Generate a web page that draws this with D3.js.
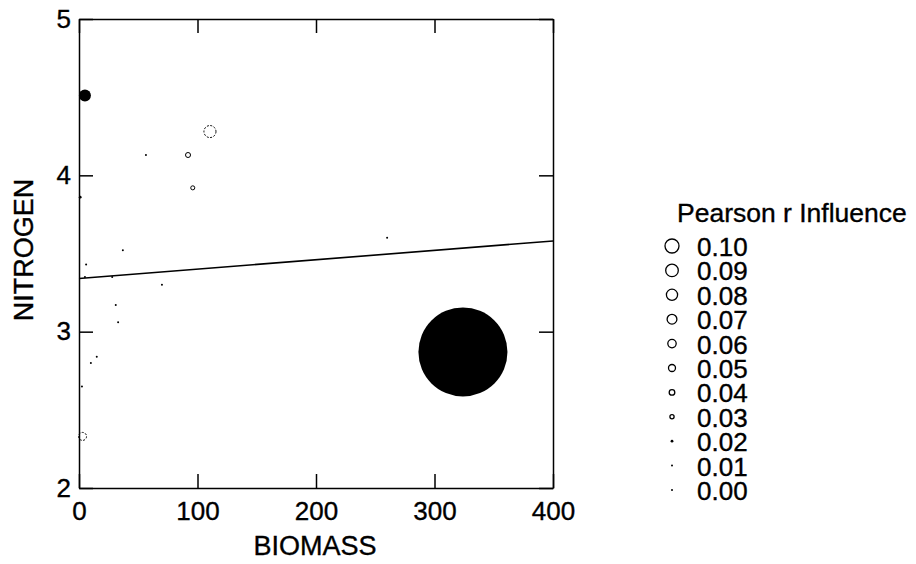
<!DOCTYPE html>
<meta charset="utf-8" />
<style>
  body {
    margin: 0;
    background: #fff;
  }
  svg text {
    font-family: "Liberation Sans", Arial, sans-serif;
    fill: #000;
    stroke: #000;
    stroke-width: 0.35px;
  }
  .axis path,
  .axis line {
    stroke: #000;
    stroke-width: 1.5px;
  }
</style>
<svg width="916" height="564"></svg>

<script src="https://d3js.org/d3.v7.js"></script>
<script>
  /* global d3 */

  // biomass, nitrogen, signed influence (negative = filled)
  var biomass = [5, 324, 110.5, 92, 96, 56.5, 1, 37, 6, 5, 28, 70, 31, 33, 15, 10, 2.5, 3, 260];
  var nitrogen = [4.51, 2.87, 4.28, 4.13, 3.92, 4.13, 3.86, 3.52, 3.43, 3.35, 3.35, 3.3, 3.17, 3.06, 2.84, 2.8, 2.65, 2.33, 3.6];
  var influence = [-0.086, -0.636, 0.086, 0.036, 0.029, -0.01, -0.02, -0.005, 0.005, 0.002, 0.002, -0.005, -0.005, 0.01, 0.01, 0.01, 0.005, 0.057, 0.002];

  var xTicks = [0, 100, 200, 300, 400];
  var yTicks = [2, 3, 4, 5];
  var legendValues = [0.1, 0.09, 0.08, 0.07, 0.06, 0.05, 0.04, 0.03, 0.02, 0.01, 0.0];

  var fitIntercept = 3.34;
  var fitSlope = 0.0006;

  var svg = d3.select("svg");

  var x = d3.scaleLinear().domain([0, 400]).range([79, 553]);
  var y = d3.scaleLinear().domain([2, 5]).range([488, 19]);
  var rLin = d3.scaleLinear().domain([0, 0.1]).range([0, 7]);
  function r(v) {
    return Math.max(1, rLin(Math.abs(v)));
  }

  function styleLabels(g) {
    g.selectAll("text").attr("font-size", 26).attr("font-family", null);
  }

  // axes, ticks pointing inward on all four sides
  svg
    .append("g")
    .attr("class", "axis")
    .attr("transform", "translate(0," + y(2) + ")")
    .call(d3.axisBottom(x).tickValues(xTicks).tickSizeInner(-14).tickSizeOuter(0).tickPadding(14).tickFormat(d3.format("d")))
    .call(styleLabels);

  svg
    .append("g")
    .attr("class", "axis")
    .attr("transform", "translate(" + x(0) + ",0)")
    .call(d3.axisLeft(y).tickValues(yTicks).tickSizeInner(-14).tickSizeOuter(0).tickPadding(8).tickFormat(d3.format("d")))
    .call(styleLabels);

  svg
    .append("g")
    .attr("class", "axis")
    .attr("transform", "translate(0," + y(5) + ")")
    .call(d3.axisTop(x).tickValues(xTicks).tickSizeInner(-14).tickSizeOuter(0).tickFormat(""));

  svg
    .append("g")
    .attr("class", "axis")
    .attr("transform", "translate(" + x(400) + ",0)")
    .call(d3.axisRight(y).tickValues(yTicks).tickSizeInner(-14).tickSizeOuter(0).tickFormat(""));

  svg.selectAll(".axis").attr("fill", null);

  // regression line
  var fitLine = d3
    .line()
    .x(function (d) {
      return x(d);
    })
    .y(function (d) {
      return y(fitIntercept + fitSlope * d);
    });

  svg
    .append("path")
    .datum([0, 400])
    .attr("d", fitLine)
    .attr("fill", "none")
    .attr("stroke", "#000")
    .attr("stroke-width", 1.6);

  // points
  var points = biomass.map(function (b, i) {
    return { b: b, n: nitrogen[i], v: influence[i] };
  });

  svg
    .append("g")
    .selectAll("circle")
    .data(points)
    .enter()
    .append("circle")
    .attr("cx", function (d) {
      return x(d.b);
    })
    .attr("cy", function (d) {
      return y(d.n);
    })
    .attr("r", function (d) {
      return r(d.v);
    })
    .attr("fill", function (d) {
      return d.v < 0 || r(d.v) < 1.6 ? "#000" : "none";
    })
    .attr("stroke", "#000")
    .attr("stroke-width", function (d) {
      return d.v < 0 || r(d.v) < 1.6 ? 0 : 1;
    })
    .attr("stroke-dasharray", function (d) {
      return d.v >= 0 && r(d.v) > 3 ? "2,1.5" : null;
    });

  // axis titles
  svg
    .append("text")
    .attr("x", 315)
    .attr("y", 555)
    .attr("text-anchor", "middle")
    .attr("font-size", 27)
    .text("BIOMASS");

  svg
    .append("text")
    .attr("transform", "translate(33,250) rotate(-90)")
    .attr("text-anchor", "middle")
    .attr("font-size", 27)
    .text("NITROGEN");

  // legend
  var legend = svg.append("g");

  legend
    .append("text")
    .attr("x", 677)
    .attr("y", 222)
    .attr("font-size", 26.5)
    .text("Pearson r Influence");

  var rows = legend
    .selectAll("g.row")
    .data(legendValues)
    .enter()
    .append("g")
    .attr("class", "row")
    .attr("transform", function (d, i) {
      return "translate(0," + (256 + i * 24.4) + ")";
    });

  rows
    .append("circle")
    .attr("cx", 672)
    .attr("cy", -10)
    .attr("r", function (d) {
      return r(d);
    })
    .attr("fill", function (d) {
      return r(d) < 1.6 ? "#000" : "none";
    })
    .attr("stroke", "#000")
    .attr("stroke-width", function (d) {
      return r(d) < 1.6 ? 0 : 1.3;
    });

  rows
    .append("text")
    .attr("x", 697)
    .attr("y", 0)
    .attr("font-size", 26)
    .text(function (d) {
      return d3.format(".2f")(d);
    });
</script>
